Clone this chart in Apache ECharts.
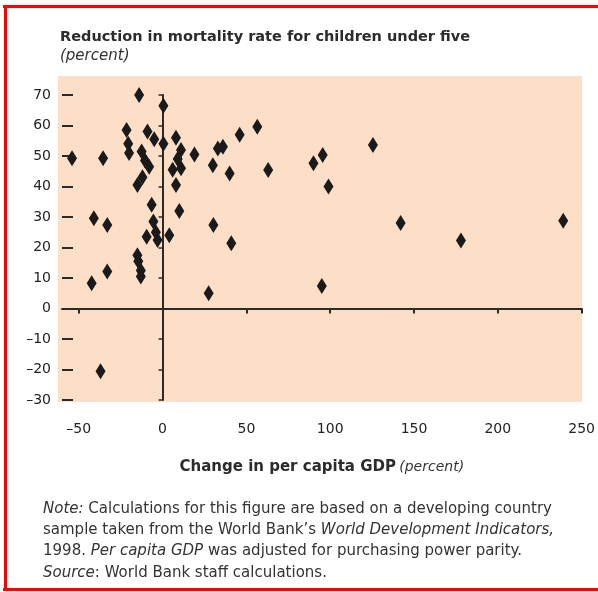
<!DOCTYPE html>
<html>
<head>
<meta charset="utf-8">
<script src="https://cdn.jsdelivr.net/npm/echarts@6/dist/echarts.min.js"></script>
<style>
html,body{margin:0;padding:0;background:#fff;}
#chart{width:598px;height:592px;}
</style>
</head>
<body>
<div id="chart"></div>
<script>
// Change in per capita GDP (percent)
var gdpChange = [
  -14, 0.5, -21.5, -9, -5, 0.5, -20.5, -20, -12.5, -10.5,
  -8, -12, -15, -6.5, -5.5, -9.5, -3, -4, -15, -14.5,
  -13, -13, 8, 11, 9, 6, 11, 8, 10, 4,
  19, 30, 40, 33, 36, 46, 56.5, 63, 90, 95.5,
  99, 125.5, 30.3, 41, 27.5, 95, 142, 178, 239, -54,
  -35.5, -41, -33, -42.3, -33, -37
];
// Reduction in mortality rate for children under five (percent)
var mortalityReduction = [
  70, 66.5, 58.5, 58, 55.5, 54, 54, 51, 51.5, 48.5,
  46.5, 43, 40.5, 34, 28.5, 23.5, 22.5, 25, 17.5, 15.5,
  12.5, 10.5, 56, 52, 49, 45.5, 46, 40.5, 32, 24,
  50.5, 47, 44.3, 52.5, 53, 57, 59.6, 45.4, 47.6, 50.3,
  40, 53.6, 27.4, 21.4, 5, 7.4, 28, 22.3, 28.8, 49.3,
  49.3, 29.6, 27.4, 8.3, 12.1, -20.6
];
var xTickValues = [-50, 0, 50, 100, 150, 200, 250];
var xTickMarks = [-50, 50, 100, 150, 200, 250];
var yMin = -30, yMax = 70, yStep = 10;
var xMin = -60, xMax = 250;

var titleText = 'Reduction in mortality rate for children under five';
var subtitleText = '(percent)';
var noteLines = [
  '{i|Note:} Calculations for this figure are based on a developing country',
  'sample taken from the World Bank\u2019s {i|World Development Indicators,}',
  '1998. {i|Per capita GDP} was adjusted for purchasing power parity.',
  '{i|Source}: World Bank staff calculations.'
];

var points = gdpChange.map(function (x, i) { return [x, mortalityReduction[i]]; });

var FONT = "'DejaVu Sans', 'Liberation Sans', Arial, sans-serif";
var chart = echarts.init(document.getElementById('chart'), null, {renderer: 'canvas'});

var graphics = [
  {type: 'rect', z: -10, shape: {x: 58, y: 76, width: 524, height: 326}, style: {fill: '#FDDFC8'}},
  {type: 'rect', shape: {x: 3, y: 5, width: 595, height: 3}, style: {fill: '#FF0000'}},
  {type: 'rect', shape: {x: 4, y: 5, width: 3, height: 586}, style: {fill: '#FF0000'}},
  {type: 'rect', shape: {x: 3, y: 588, width: 595, height: 3}, style: {fill: '#FF0000'}},
  {type: 'text', x: 60, y: 37, style: {text: titleText, font: 'bold 14.5px ' + FONT, fill: '#2b2b2b', verticalAlign: 'middle'}},
  {type: 'text', x: 60, y: 56, style: {text: subtitleText, font: 'italic 15px ' + FONT, fill: '#333', verticalAlign: 'middle'}}
];
noteLines.forEach(function (t, i) {
  graphics.push({
    type: 'text', x: 43, y: 509 + i * 21.3,
    style: {
      text: t, fontFamily: FONT, fontSize: 15, fill: '#333', verticalAlign: 'middle',
      rich: {i: {fontStyle: 'italic', fontFamily: FONT, fontSize: 15, fill: '#333'}}
    }
  });
});

function fmt(v) { return v < 0 ? '\u2013' + Math.abs(v) : String(v); }

var option = {
  animation: false,
  backgroundColor: '#fff',
  grid: {left: 62, right: 14, top: 95, bottom: 192, containLabel: false},
  graphic: graphics,
  xAxis: [
    {
      type: 'value', min: xMin, max: xMax, position: 'bottom',
      axisLine: {show: false, onZero: false},
      axisTick: {show: false},
      splitLine: {show: false},
      axisLabel: {
        customValues: xTickValues, margin: 22, color: '#222', fontSize: 14, fontFamily: FONT,
        formatter: fmt
      },
      name: '{b|Change in per capita GDP} {i|(percent)}',
      nameLocation: 'middle', nameGap: 60,
      nameTextStyle: {
        rich: {
          b: {fontWeight: 'bold', fontSize: 15, fontFamily: FONT, color: '#2b2b2b'},
          i: {fontStyle: 'italic', fontSize: 14, fontFamily: FONT, color: '#333'}
        }
      }
    },
    {
      type: 'value', min: xMin, max: xMax, position: 'bottom',
      axisLine: {show: true, onZero: true, lineStyle: {color: '#2a2a2a', width: 2}},
      axisTick: {show: true, customValues: xTickMarks, length: 5, lineStyle: {color: '#2a2a2a', width: 2}},
      axisLabel: {show: false},
      splitLine: {show: false}
    }
  ],
  yAxis: [
    {
      type: 'value', min: yMin, max: yMax, interval: yStep, position: 'left',
      axisLine: {show: false, onZero: false},
      axisTick: {show: true, inside: true, length: 11, lineStyle: {color: '#2a2a2a', width: 2}},
      splitLine: {show: false},
      axisLabel: {
        margin: 11, color: '#222', fontSize: 14, fontFamily: FONT,
        formatter: fmt
      }
    },
    {
      type: 'value', min: yMin, max: yMax, interval: yStep, position: 'left',
      axisLine: {show: true, onZero: true, onZeroAxisIndex: 1, lineStyle: {color: '#2a2a2a', width: 2}},
      axisTick: {show: true, length: 4, lineStyle: {color: '#2a2a2a', width: 1.5}},
      axisLabel: {show: false},
      splitLine: {show: false}
    }
  ],
  series: [{
    type: 'scatter',
    xAxisIndex: 0, yAxisIndex: 0,
    symbol: 'diamond',
    symbolSize: [10, 16],
    itemStyle: {color: '#1a1a1a', opacity: 1},
    data: points,
    z: 5
  }]
};
chart.setOption(option);
</script>
</body>
</html>
